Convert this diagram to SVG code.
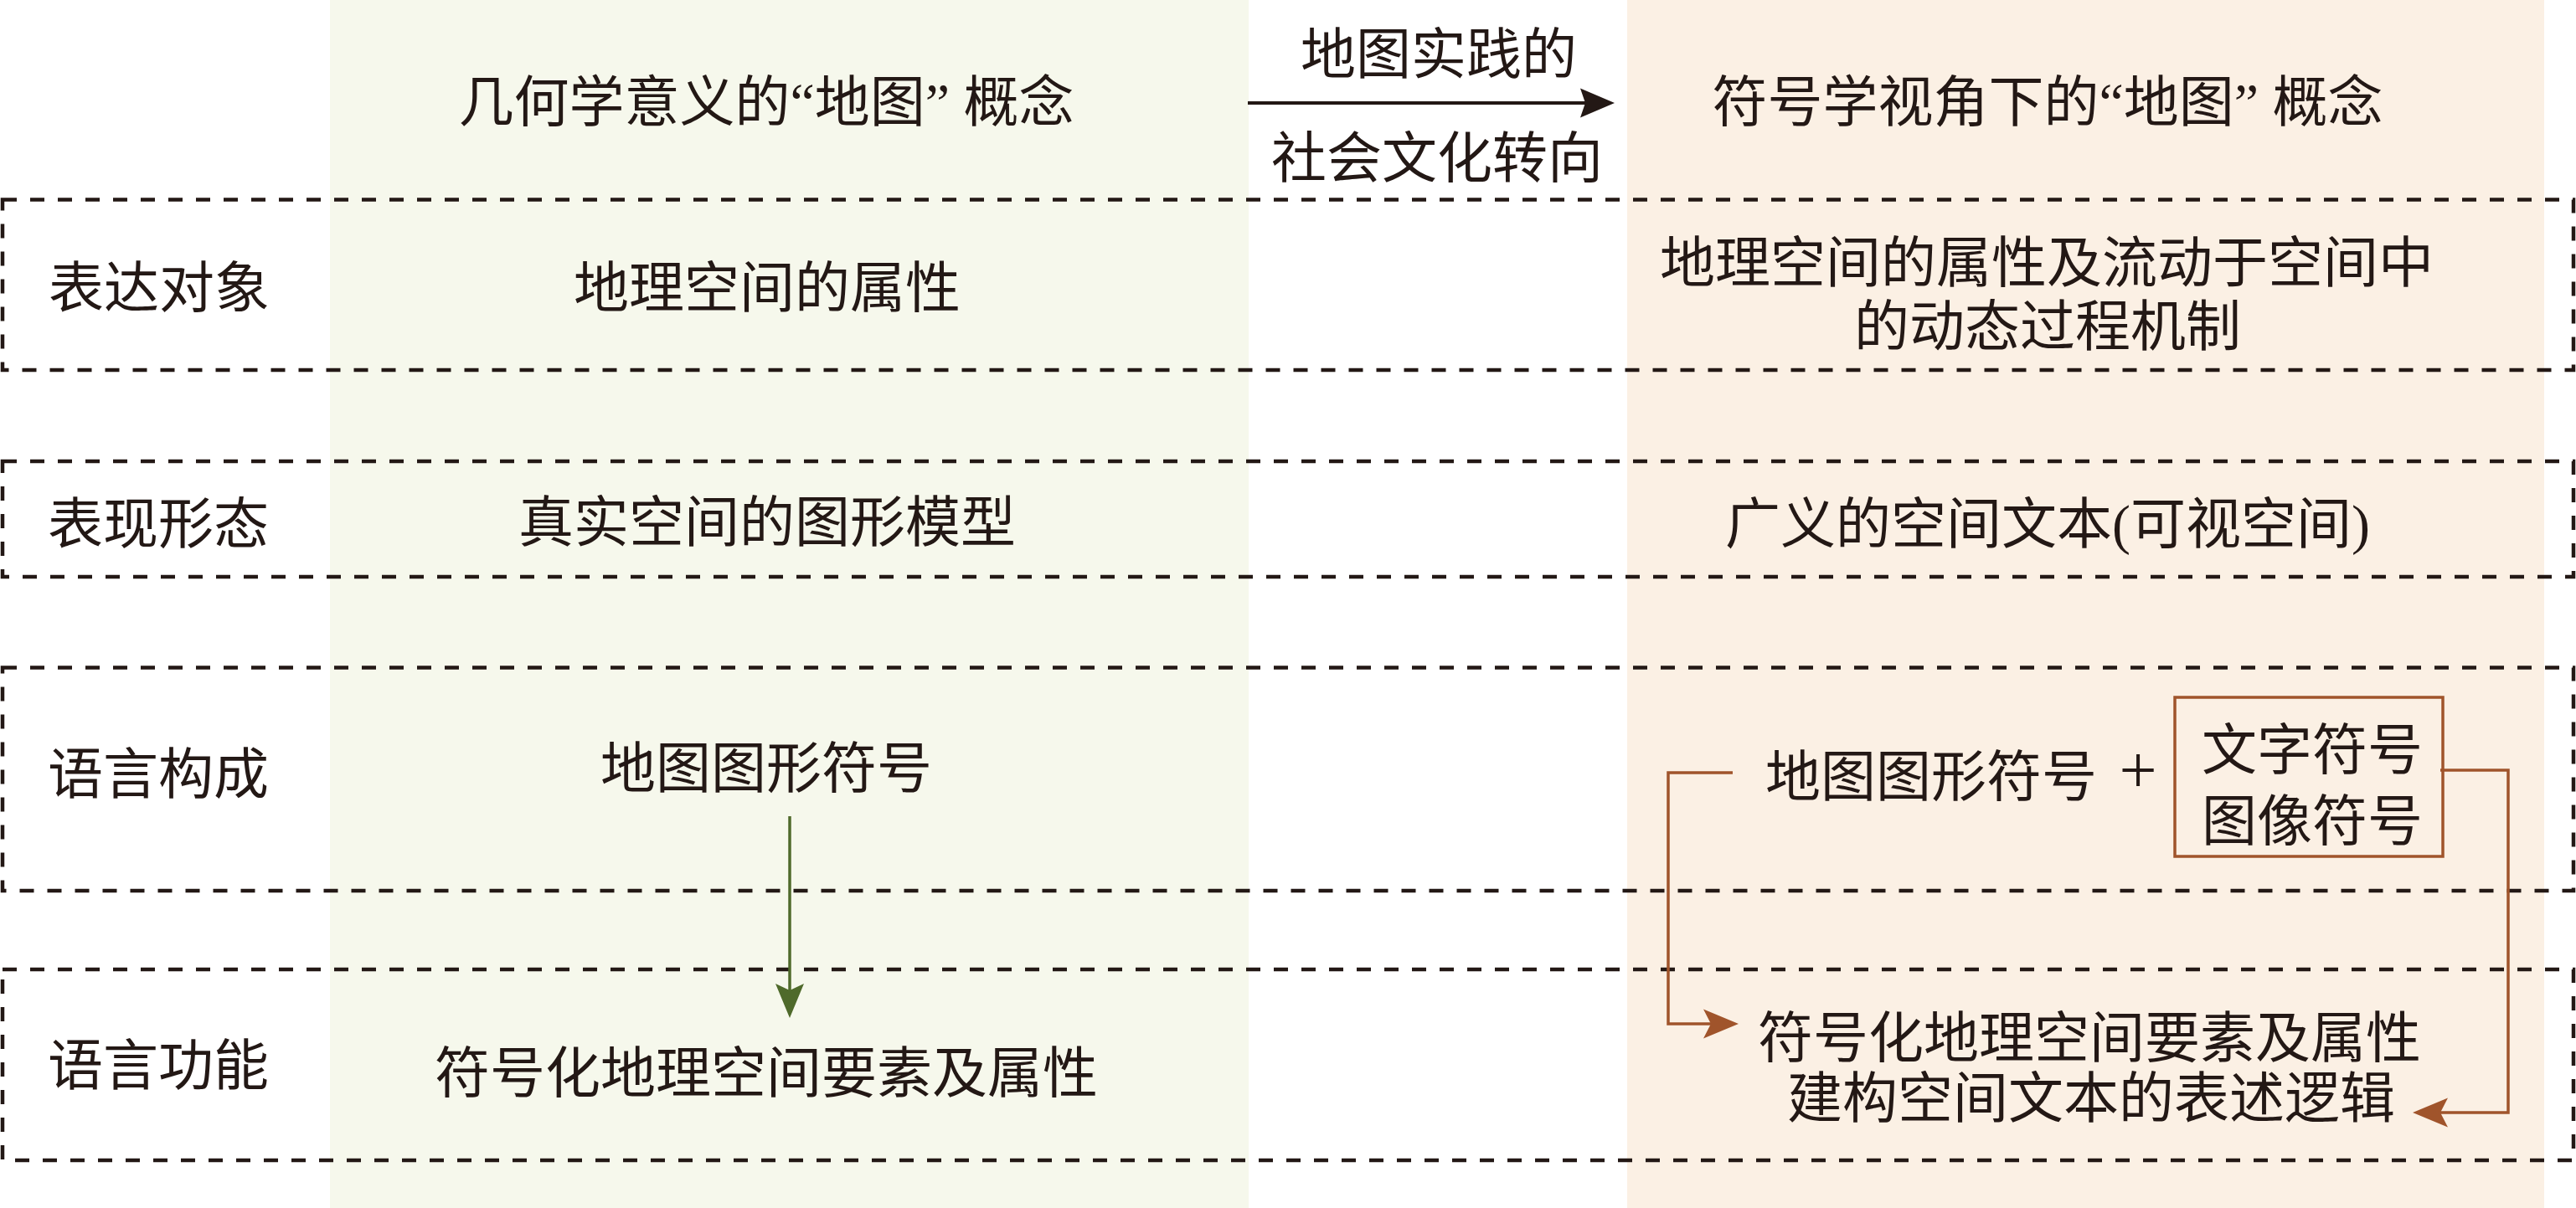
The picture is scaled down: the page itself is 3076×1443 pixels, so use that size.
<svg xmlns="http://www.w3.org/2000/svg" width="3076" height="1443" viewBox="0 0 3076 1443">
  <style>
    .t { font-family: "Liberation Serif", "Noto Sans CJK SC", serif; font-size: 66px; fill: #231815; text-anchor: middle; }
    .box { fill: none; stroke: #231815; stroke-width: 4.5; stroke-dasharray: 17 16; }
    .brown { fill: none; stroke: #A0542B; stroke-width: 3.5; }
  </style>
  <defs>
    <marker id="arrBlack" markerUnits="userSpaceOnUse" markerWidth="42" markerHeight="36" refX="6" refY="17.5" orient="auto" overflow="visible">
      <path d="M0,0 L41,17.5 L0,35 L6,17.5 Z" fill="#231815"/>
    </marker>
    <marker id="arrGreen" markerUnits="userSpaceOnUse" markerWidth="42" markerHeight="36" refX="8" refY="17" orient="auto" overflow="visible">
      <path d="M0,0 L41,17 L0,34 L8,17 Z" fill="#4F6A2B"/>
    </marker>
    <marker id="arrBrown" markerUnits="userSpaceOnUse" markerWidth="43" markerHeight="36" refX="9" refY="17.5" orient="auto" overflow="visible">
      <path d="M0,0 L42,17.5 L0,35 L9,17.5 Z" fill="#A0542B"/>
    </marker>
  </defs>

  <g id="background">
    <rect x="0" y="0" width="3076" height="1443" fill="#FFFFFF"/>
    <rect x="394" y="0" width="1097" height="1443" fill="#F6F8EC"/>
    <rect x="1943" y="0" width="1095" height="1443" fill="#FBF0E4"/>
  </g>

  <g id="rows">
    <rect id="row-biaoda" class="box" x="3" y="238.5" width="3070" height="203.5"/>
    <rect id="row-biaoxian" class="box" x="3" y="551" width="3070" height="138"/>
    <rect id="row-goucheng" class="box" x="3" y="797.5" width="3070" height="266.5"/>
    <rect id="row-gongneng" class="box" x="3" y="1158" width="3070" height="228"/>
  </g>

  <g id="connectors">
    <path id="c-turn" d="M1490,123 H1893" fill="none" stroke="#231815" stroke-width="4" marker-end="url(#arrBlack)"/>
    <path id="c-green" d="M943,975 V1183" fill="none" stroke="#4F6A2B" stroke-width="3.5" marker-end="url(#arrGreen)"/>
    <path id="c-brown-left" class="brown" d="M2069,923 H1992 V1223 H2043" marker-end="url(#arrBrown)"/>
    <path id="c-brown-right" class="brown" d="M2914,920 H2995 V1329 H2914" marker-end="url(#arrBrown)"/>
  </g>

  <g id="header-left"><text class="t" x="915" y="145">几何学意义的“地图” 概念</text></g>
  <g id="header-mid">
    <text class="t" x="1718" y="88">地图实践的</text>
    <text class="t" x="1716" y="212">社会文化转向</text>
  </g>
  <g id="header-right"><text class="t" x="2445" y="145">符号学视角下的“地图” 概念</text></g>

  <g id="label-biaoda"><text class="t" x="190" y="367">表达对象</text></g>
  <g id="left-biaoda"><text class="t" x="916" y="367">地理空间的属性</text></g>
  <g id="right-biaoda">
    <text class="t" x="2444" y="337">地理空间的属性及流动于空间中</text>
    <text class="t" x="2445" y="413">的动态过程机制</text>
  </g>

  <g id="label-biaoxian"><text class="t" x="189" y="649">表现形态</text></g>
  <g id="left-biaoxian"><text class="t" x="916" y="647">真实空间的图形模型</text></g>
  <g id="right-biaoxian"><text class="t" x="2445" y="649">广义的空间文本(可视空间)</text></g>

  <g id="label-goucheng"><text class="t" x="189" y="948">语言构成</text></g>
  <g id="left-goucheng"><text class="t" x="915" y="941">地图图形符号</text></g>
  <g id="right-goucheng">
    <text class="t" x="2306" y="951">地图图形符号</text>
    <text class="t" x="2553" y="947" style="font-size:80px">+</text>
  </g>
  <g id="right-box">
    <rect x="2597" y="833" width="320" height="190" fill="none" stroke="#A0542B" stroke-width="3.5"/>
    <text class="t" x="2761" y="919">文字符号</text>
    <text class="t" x="2761" y="1004">图像符号</text>
  </g>

  <g id="label-gongneng"><text class="t" x="189" y="1296">语言功能</text></g>
  <g id="left-gongneng"><text class="t" x="915" y="1305">符号化地理空间要素及属性</text></g>
  <g id="right-gongneng">
    <text class="t" x="2495" y="1263">符号化地理空间要素及属性</text>
    <text class="t" x="2497" y="1335">建构空间文本的表述逻辑</text>
  </g>
</svg>
